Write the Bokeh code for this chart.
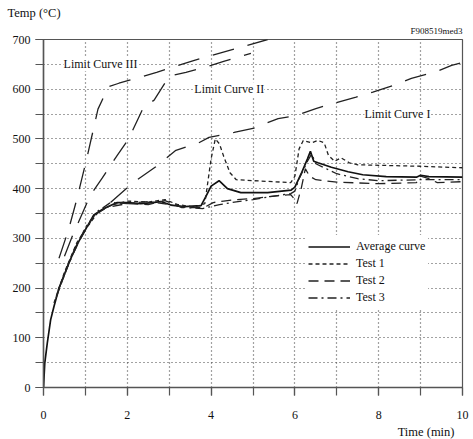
from bokeh.plotting import figure
from bokeh.models import Label, Legend, LegendItem, SingleIntervalTicker, Range1d, Title
from bokeh.embed import file_html
from bokeh.resources import INLINE

# ---------------- data ----------------
avg_x = [0, 0.03, 0.09, 0.17, 0.25, 0.37, 0.57, 0.77, 0.95, 1.2, 1.44, 1.76, 2.0, 2.32, 2.6, 2.8,
         3.04, 3.36, 3.76, 3.88, 4.0, 4.19, 4.39, 4.71, 5.35, 5.91, 6.0, 6.15, 6.3, 6.37, 6.45,
         6.55, 6.87, 7.27, 7.62, 8.18, 8.9, 9.0, 9.2, 10]
avg_y = [0, 49, 89, 136, 163, 200, 243, 283, 310, 347, 360, 372, 372, 370, 372, 374,
         367, 364, 366, 385, 405, 416, 400, 392, 392, 397, 403, 430, 460, 475, 455,
         452, 443, 434, 428, 424, 423, 427, 424, 423]

t1_x = [0.25, 0.5, 0.8, 1.0, 1.3, 1.6, 2.0, 2.5, 2.9, 3.2, 3.6, 3.85, 4.0, 4.1, 4.2, 4.3, 4.45,
        4.6, 5.0, 5.5, 5.9, 6.0, 6.1, 6.2, 6.4, 6.55, 6.7, 6.8, 6.95, 7.1, 7.3, 7.5, 8.0, 9.0, 10]
t1_y = [170, 232, 292, 318, 352, 366, 375, 373, 378, 368, 363, 370, 460, 500, 490, 465, 432,
        418, 416, 414, 412, 425, 480, 497, 492, 497, 492, 467, 455, 462, 452, 448, 447, 445, 442]

t2_x = [0.3, 0.6, 0.9, 1.2, 1.5, 2.0, 2.5, 2.9, 3.3, 3.7, 3.9, 4.05, 4.3, 4.6, 5.0, 5.5, 5.9,
        6.0, 6.05, 6.15, 6.25, 6.35, 6.5, 7.0, 8.0, 8.9, 9.0, 9.2, 9.4, 10]
t2_y = [180, 250, 302, 345, 362, 370, 368, 376, 362, 362, 365, 372, 375, 378, 380, 385, 388,
        378, 370, 400, 440, 425, 418, 413, 410, 412, 425, 420, 412, 414]

t3_x = [0.35, 0.7, 1.0, 1.3, 1.6, 2.0, 2.5, 3.0, 3.4, 3.8, 3.9, 4.2, 4.5, 5.0, 5.5, 5.9, 6.0,
        6.1, 6.3, 6.4, 6.5, 7.0, 7.5, 8.0, 9.0, 10]
t3_y = [195, 268, 322, 355, 372, 370, 374, 368, 362, 360, 362, 368, 372, 378, 385, 390, 395,
        420, 455, 470, 450, 430, 420, 416, 418, 418]

lc3_x = [0.37, 0.6, 0.8, 1.05, 1.3, 1.55, 1.8, 2.7, 3.6, 4.6, 5.35]
lc3_y = [260, 318, 380, 467, 560, 605, 612, 634, 658, 682, 700]

lc2_x = [0.5, 0.7, 1.12, 1.4, 1.76, 2.03, 2.39, 2.64, 3.0, 3.4, 4.0, 4.3, 4.95]
lc2_y = [264, 307, 387, 421, 467, 500, 564, 578, 626, 634, 648, 656, 672]

lc1_x = [1.6, 2.12, 2.68, 3.16, 3.68, 3.95, 4.55, 5.0, 5.6, 6.03, 6.5, 6.9, 7.46, 7.86, 8.37,
         8.78, 9.33, 9.74, 10]
lc1_y = [372, 411, 444, 477, 491, 503, 513, 521, 541, 547, 561, 571, 584, 594, 608,
         622, 634, 648, 654]

limit_labels = ["Limit Curve III", "Limit Curve II", "Limit Curve I"]
limit_label_x = [0.48, 3.6, 7.66]
limit_label_y = [650, 600, 550]

legend_labels = ["Average curve", "Test 1", "Test 2", "Test 3"]

FONT = "Liberation Serif"
INK = "#222222"

p = figure(width=473, height=439, output_backend="svg", toolbar_location=None,
           x_range=Range1d(0, 10), y_range=Range1d(0, 700),
           min_border_left=43, min_border_right=11, min_border_top=39, min_border_bottom=51)
p.background_fill_color = "white"
p.border_fill_color = "white"
p.outline_line_color = "#555555"
p.outline_line_width = 1.2

# titles (outside the frame)
p.title.text = "Temp (°C)"
p.title.align = "left"
p.title.offset = -36
p.title.text_font = FONT
p.title.text_font_size = "12.5px"
p.title.text_font_style = "normal"
p.title.text_color = "#111111"
p.title.standoff = 0

t_code = Title(text="F908519med3", align="right", offset=0, text_font=FONT,
               text_font_size="9px", text_font_style="normal", text_color="#111111", standoff=8)
p.add_layout(t_code, "above")

t_time = Title(text="Time (min)", align="right", offset=8, text_font=FONT,
               text_font_size="12.5px", text_font_style="normal", text_color="#111111", standoff=2)
p.add_layout(t_time, "below")

p.xaxis.ticker = SingleIntervalTicker(interval=2, num_minor_ticks=2)
p.yaxis.ticker = SingleIntervalTicker(interval=100, num_minor_ticks=2)
for ax in (p.xaxis[0], p.yaxis[0]):
    ax.major_tick_out = 8
    ax.major_tick_in = 0
    ax.minor_tick_out = 8
    ax.minor_tick_in = 0
    ax.axis_line_color = "#555555"
    ax.axis_line_width = 1.5
    ax.major_tick_line_color = "#555555"
    ax.minor_tick_line_color = "#555555"
    ax.major_tick_line_width = 1.2
    ax.minor_tick_line_width = 1.2
    ax.major_label_text_font = FONT
    ax.major_label_text_font_size = "12px"
    ax.major_label_text_color = "#111111"
p.xaxis.major_label_standoff = 15
p.yaxis.major_label_standoff = 5

p.xgrid.ticker = SingleIntervalTicker(interval=1)
p.ygrid.ticker = SingleIntervalTicker(interval=50)
for g in (p.xgrid[0], p.ygrid[0]):
    g.grid_line_color = "#444444"
    g.grid_line_dash = "1 3"
    g.grid_line_width = 1.2

# limit curves
for lx, ly in ((lc3_x, lc3_y), (lc2_x, lc2_y), (lc1_x, lc1_y)):
    p.line(lx, ly, line_color=INK, line_width=1.3, line_dash="22 14")

r_avg = p.line(avg_x, avg_y, line_color="#111111", line_width=1.7)
r_t1 = p.line(t1_x, t1_y, line_color=INK, line_width=1.3, line_dash="4 3")
r_t2 = p.line(t2_x, t2_y, line_color=INK, line_width=1.3, line_dash="10 6")
r_t3 = p.line(t3_x, t3_y, line_color=INK, line_width=1.3, line_dash="9 4 2 4")

for txt, lx, ly in zip(limit_labels, limit_label_x, limit_label_y):
    p.add_layout(Label(x=lx, y=ly, text=txt, text_font=FONT, text_font_size="12px",
                       text_color="#111111", text_baseline="middle", text_align="left",
                       background_fill_color="white", background_fill_alpha=1.0))

legend = Legend(items=[LegendItem(label=legend_labels[0], renderers=[r_avg]),
                       LegendItem(label=legend_labels[1], renderers=[r_t1]),
                       LegendItem(label=legend_labels[2], renderers=[r_t2]),
                       LegendItem(label=legend_labels[3], renderers=[r_t3])],
                location=(262, 78))
legend.label_text_font = FONT
legend.label_text_font_size = "12px"
legend.label_text_color = "#111111"
legend.glyph_width = 42
legend.glyph_height = 17
legend.label_height = 17
legend.label_standoff = 6
legend.spacing = 0
legend.padding = 3
legend.margin = 0
legend.border_line_alpha = 0
legend.background_fill_color = "white"
legend.background_fill_alpha = 1.0
p.add_layout(legend, "center")

open("out.html", "w").write(file_html(p, INLINE))
